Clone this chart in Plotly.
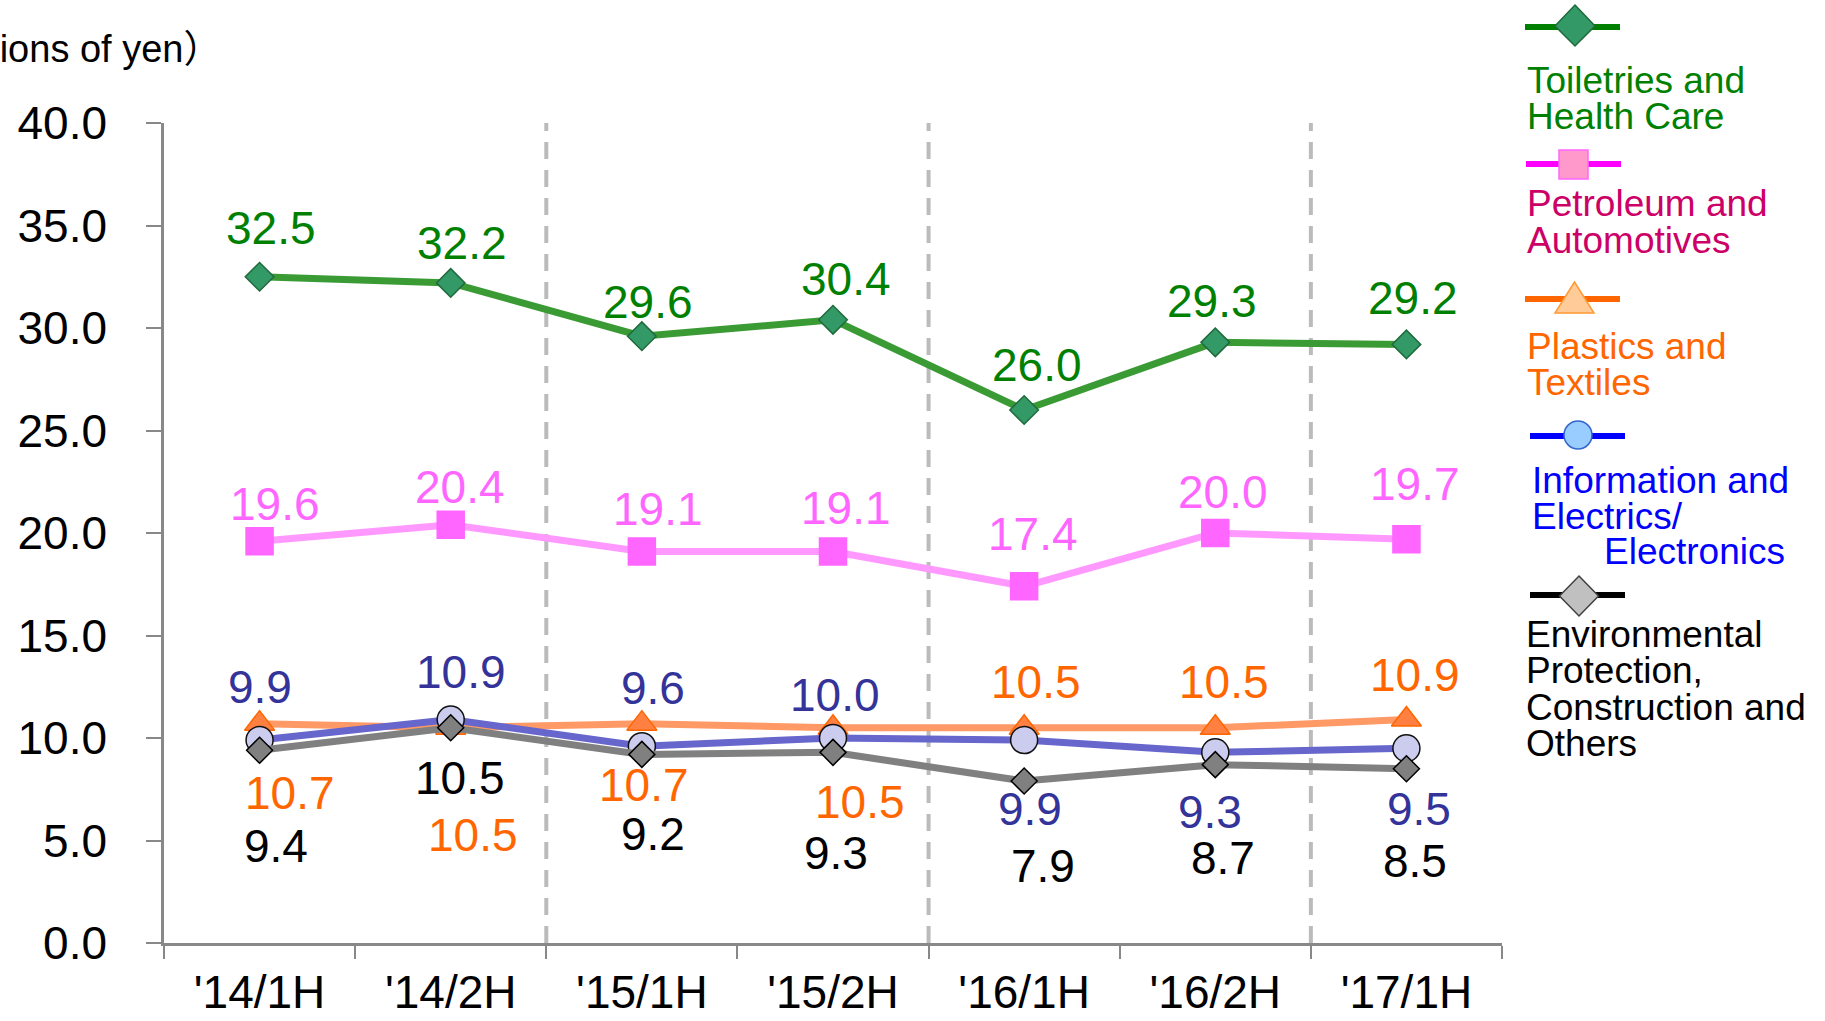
import plotly.graph_objects as go

# ---------------- data ----------------
categories = ["'14/1H", "'14/2H", "'15/1H", "'15/2H", "'16/1H", "'16/2H", "'17/1H"]
toiletries = [32.5, 32.2, 29.6, 30.4, 26.0, 29.3, 29.2]
petroleum = [19.6, 20.4, 19.1, 19.1, 17.4, 20.0, 19.7]
plastics = [10.7, 10.5, 10.7, 10.5, 10.5, 10.5, 10.9]
information = [9.9, 10.9, 9.6, 10.0, 9.9, 9.3, 9.5]
environmental = [9.4, 10.5, 9.2, 9.3, 7.9, 8.7, 8.5]
y_ticks = [0, 5, 10, 15, 20, 25, 30, 35, 40]
y_title = "（Billions of yen）"

# ---------------- geometry (pixels) ----------------
W, H = 1825, 1021
PL, PR, PT, PB = 164, 1502, 123, 943  # plot area edges
FONT = "Arial, 'Liberation Sans', sans-serif"


def px(x):
    return x / W


def py(y):
    return 1 - y / H


# label offsets (dx, dy) in pixels relative to each point (dy: + = down)
off_toil = [(11, -49), (11, -40), (6, -34), (13, -41), (13, -45), (-3, -41), (7, -46)]
off_petr = [(15, -37), (9, -38), (16, -42), (13, -43), (9, -52), (8, -41), (9, -55)]
off_plas = [(30, 69), (22, 107), (2, 61), (27, 74), (12, -46), (9, -46), (9, -45)]
off_info = [(0, -53), (10, -48), (11, -58), (2, -43), (6, 69), (-5, 60), (13, 61)]
off_envi = [(16, 96), (9, 50), (11, 80), (3, 101), (19, 85), (8, 93), (9, 92)]

series = [
    # name, values, line color, symbol, size, fill, edge, label color, offsets
    ("Toiletries and Health Care", toiletries, "#3A9B35", "diamond", 22, "#339966", "#1E6B3C", "#008000", off_toil),
    ("Petroleum and Automotives", petroleum, "#FF99FF", "square", 27, "#FF66FF", "#FF66FF", "#FF66FF", off_petr),
    ("Plastics and Textiles", plastics, "#FF9966", "triangle-up", 26, "#FF8040", "#FF6600", "#FF6600", off_plas),
    ("Information and Electrics/Electronics", information, "#6666CC", "circle", 27, "#CCCCEE", "#111111", "#333399", off_info),
    ("Environmental Protection, Construction and Others", environmental, "#808080", "diamond", 20, "#808080", "#000000", "#000000", off_envi),
]

fig = go.Figure()
annotations = []
for name, vals, lc, sym, size, fill, edge, tc, offs in series:
    fig.add_trace(go.Scatter(
        x=categories, y=vals, mode="lines+markers", name=name,
        line=dict(color=lc, width=7),
        marker=dict(symbol=sym, size=size, color=fill, line=dict(color=edge, width=1.5)),
        showlegend=False, hoverinfo="skip",
    ))
    for c, v, (dx, dy) in zip(categories, vals, offs):
        annotations.append(dict(
            x=c, y=v, xref="x", yref="y", text=f"{v:.1f}", showarrow=False,
            xanchor="center", yanchor="middle", xshift=dx, yshift=-dy,
            font=dict(family=FONT, size=46, color=tc),
        ))

# y-axis title (partly off the left edge)
annotations.append(dict(
    x=px(223), y=py(49), xref="paper", yref="paper", text=y_title, showarrow=False,
    xanchor="right", yanchor="middle",
    font=dict(family=FONT + ", 'Noto Sans CJK JP'", size=38, color="#000000"),
))

# custom legend text lines
legend_lines = [
    ("Toiletries and", 1525, 81, "#008000"),
    ("Health Care", 1525, 116, "#008000"),
    ("Petroleum and", 1525, 204, "#CC0066"),
    ("Automotives", 1525, 240, "#CC0066"),
    ("Plastics and", 1525, 346, "#FF6600"),
    ("Textiles", 1525, 382, "#FF6600"),
    ("Information and", 1530, 480, "#0000FF"),
    ("Electrics/", 1530, 516, "#0000FF"),
    ("Electronics", 1602, 551, "#0000FF"),
    ("Environmental", 1524, 634, "#000000"),
    ("Protection,", 1524, 670, "#000000"),
    ("Construction and", 1524, 707, "#000000"),
    ("Others", 1524, 743, "#000000"),
]
for t, x, y, c in legend_lines:
    annotations.append(dict(
        x=px(x), y=py(y), xref="paper", yref="paper", text=t, showarrow=False,
        xanchor="left", yanchor="middle", font=dict(family=FONT, size=37, color=c),
    ))

shapes = []
# vertical dashed separators between years
for xb in [1.5, 3.5, 5.5]:
    shapes.append(dict(type="line", xref="x", yref="y", x0=xb, x1=xb, y0=0, y1=40.35,
                       line=dict(color="#BBBBBB", width=4, dash="17px,11px"), layer="below"))


# legend swatches
def lline(x0, x1, y, color):
    shapes.append(dict(type="line", xref="paper", yref="paper", x0=px(x0), x1=px(x1),
                       y0=py(y), y1=py(y), line=dict(color=color, width=6)))


def lpath(pts, fill, edge):
    d = "M " + " L ".join(f"{px(a):.5f},{py(b):.5f}" for a, b in pts) + " Z"
    shapes.append(dict(type="path", xref="paper", yref="paper", path=d,
                       fillcolor=fill, line=dict(color=edge, width=1.5)))


lline(1525, 1620, 27, "#008000")
lpath([(1575, 5), (1595, 26), (1575, 46), (1555, 26)], "#339966", "#1E6B3C")
lline(1526, 1621, 164, "#FF00FF")
lpath([(1559, 150), (1588, 150), (1588, 179), (1559, 179)], "#FF99CC", "#FF66FF")
lline(1525, 1620, 299, "#FF6600")
lpath([(1574.5, 282), (1594, 313), (1555, 313)], "#FFCC99", "#FF9933")
lline(1530, 1625, 436, "#0000FF")
shapes.append(dict(type="circle", xref="paper", yref="paper", x0=px(1564), x1=px(1592),
                   y0=py(449), y1=py(421), fillcolor="#99CCFF", line=dict(color="#3366CC", width=1.5)))
lline(1530, 1625, 595, "#000000")
lpath([(1579, 576), (1598.5, 596), (1579, 616), (1559.5, 596)], "#C0C0C0", "#404040")

fig.update_layout(
    width=W, height=H,
    margin=dict(l=0, r=0, t=0, b=0),
    paper_bgcolor="white", plot_bgcolor="white",
    showlegend=False,
    annotations=annotations,
    shapes=shapes,
    xaxis=dict(
        domain=[PL / W, PR / W], type="category", range=[-0.5, 6.5],
        showgrid=False, zeroline=False, showline=True, linecolor="#888888", linewidth=2.5,
        ticks="outside", tickson="boundaries", ticklen=13, tickwidth=2, tickcolor="#888888",
        tickfont=dict(family=FONT, size=46, color="#000000"),
        ticklabelstandoff=7, automargin=False, fixedrange=True,
    ),
    yaxis=dict(
        domain=[(H - PB) / H, (H - PT) / H], range=[0, 40],
        tickvals=y_ticks, ticktext=[f"{v:.1f}" for v in y_ticks],
        showgrid=False, zeroline=False, showline=True, linecolor="#888888", linewidth=2.5,
        ticks="outside", ticklen=15, tickwidth=2, tickcolor="#888888",
        tickfont=dict(family=FONT, size=46, color="#000000"),
        ticklabelstandoff=30, automargin=False, fixedrange=True,
    ),
)

fig.write_html("out.html", config={"displayModeBar": False},
               post_script="document.body.style.margin='0';")
